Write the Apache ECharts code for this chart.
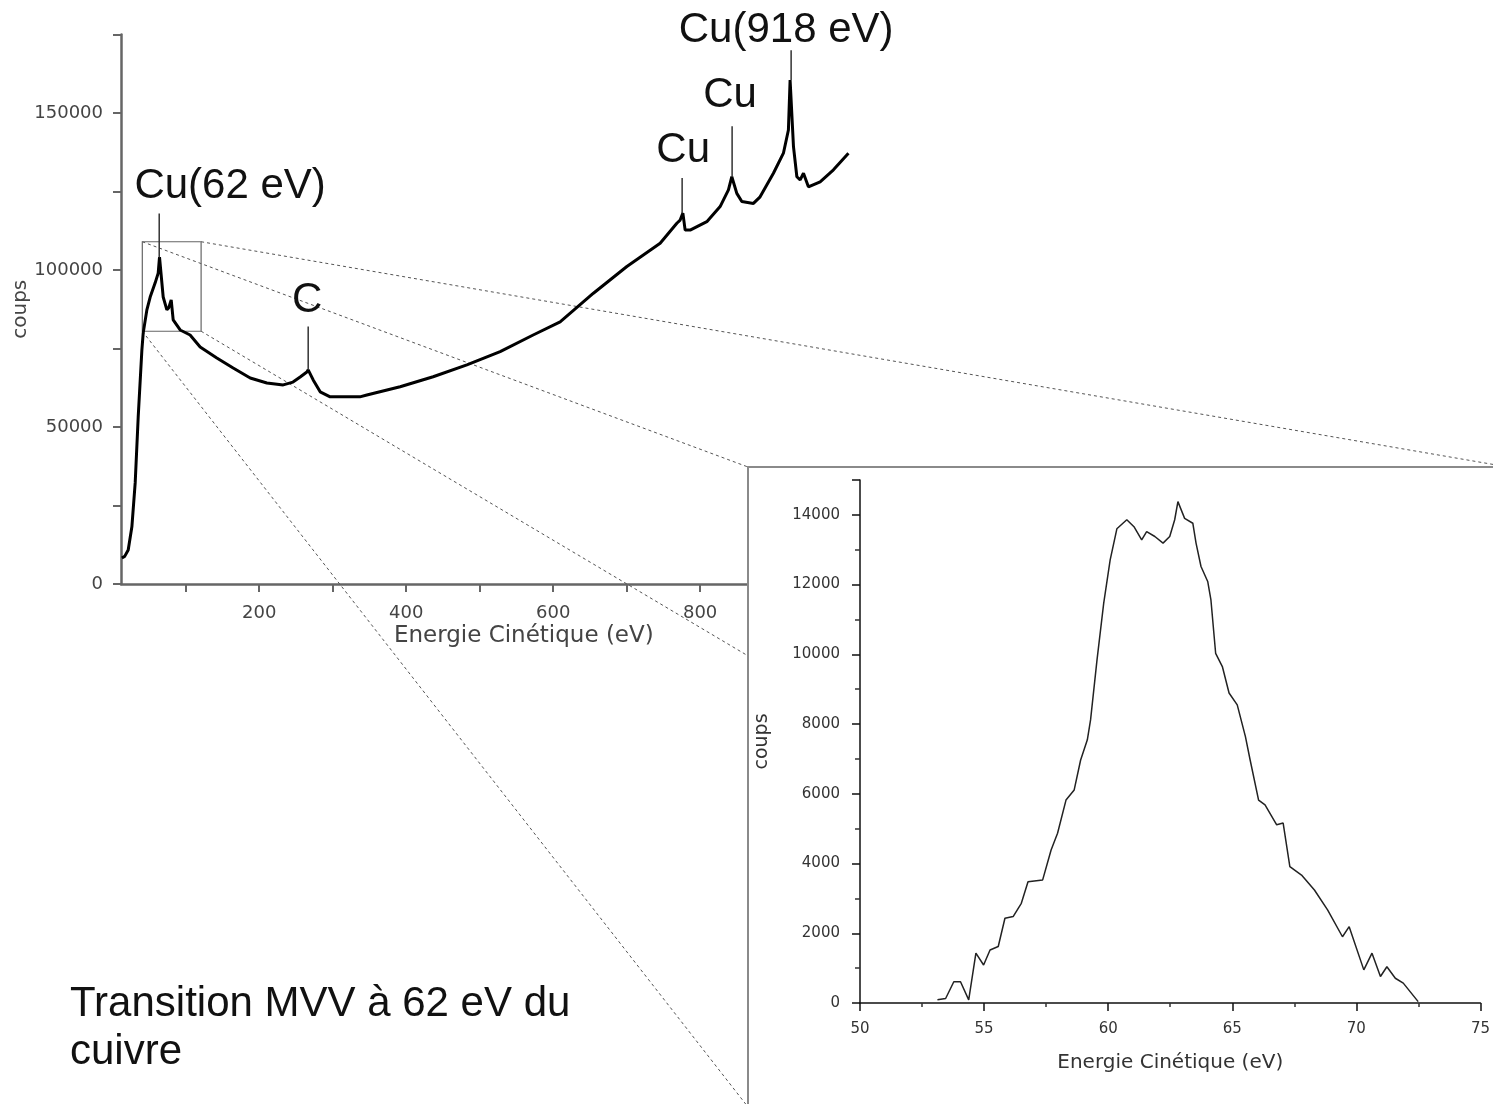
<!DOCTYPE html>
<html><head><meta charset="utf-8">
<script src="https://cdn.jsdelivr.net/npm/echarts@6/dist/echarts.min.js"></script>
<style>html,body{margin:0;padding:0;background:#fff;overflow:hidden}#c{width:1493px;height:1104px}</style>
</head><body><div id="c"></div>
<script>
// ---- Main spectrum (Energie cinétique en eV, coups) ----
const mainEnergy = [13.2,17,21.8,26.8,31.3,35.4,40.4,42.2,47.2,51.7,58.5,62.6,64.4,69.4,74.4,77,80.3,83,92.5,106,119.7,142.4,164.6,187.8,210.5,232.7,246,255.8,264.9,266.7,273.5,283,296.6,337,346.5,391.8,436.7,482.6,527.9,572.8,609.5,654.8,700.3,745.6,768.3,772.8,776.5,779.6,786.4,809.1,827.2,838.5,843.1,849.9,856.7,872.5,881.6,899.7,913.3,920.1,922.4,927,931.6,936.1,940.6,947.3,963.3,981.4,1001.8];
const mainCounts = [8300,8800,10800,18200,32200,53200,74500,79900,87300,91400,95900,99000,104100,91400,87300,88000,90500,84100,80900,79300,75500,72000,68800,65600,64000,63400,64300,65900,67500,68200,65000,61200,59600,59600,60200,62800,66000,69800,74000,79300,83500,92600,101100,108500,114900,115900,118100,112700,112700,115400,120200,125500,129700,124400,121800,121200,123300,130800,137200,144600,160500,139300,129700,128700,130800,126500,128100,131900,137200];
const mainXLabels = [200,400,600,800];
const mainXTicks = [100,200,300,400,500,600,700,800,900];

// ---- Inset: transition MVV du cuivre ----
const insetEnergy = [53.12,53.45,53.78,54.05,54.38,54.67,54.98,55.24,55.57,55.84,56.17,56.5,56.77,57.36,57.7,57.96,58.3,58.63,58.89,59.16,59.29,59.55,59.82,60.08,60.35,60.75,61.05,61.35,61.55,61.88,62.21,62.48,62.68,62.81,63.08,63.41,63.54,63.74,64.01,64.14,64.33,64.6,64.87,65.2,65.53,65.72,66.06,66.32,66.79,67.05,67.32,67.79,68.31,68.84,69.44,69.71,70.3,70.63,70.97,71.23,71.57,71.89,72.49];
const insetCounts = [90,130,610,610,90,1430,1090,1520,1620,2430,2480,2860,3480,3530,4390,4870,5820,6110,6970,7550,8120,9840,11470,12710,13600,13860,13650,13280,13520,13380,13190,13380,13860,14380,13900,13760,13190,12520,12090,11560,10030,9650,8890,8550,7640,6970,5820,5680,5110,5160,3910,3670,3240,2670,1900,2190,950,1430,760,1040,710,570,40];

// ---- Annotations (data units of the main chart) ----
const annoLabels = ['Cu(62 eV)','C','Cu','Cu','Cu(918 eV)'];
const annoEnergy = [64, 266.7, 775.5, 843.5, 923.8];
const annoLineTop = [118000, 82000, 129300, 145800, 170000];
const annoLineBottom = [104000, 68200, 118100, 129700, 160500];
const annoTextEnergy = [160.5, 265.3, 776.9, 840.8, 917];
const annoTextCounts = [126700, 90400, 138200, 155700, 176400];
const zoomBoxEnergy = [41, 121];
const zoomBoxCounts = [80500, 109000];
const caption = 'Transition MVV à 62 eV du\ncuivre';

const zip = (a, b) => a.map((v, i) => [v, b[i]]);
const F = 'DejaVu Sans';
const chart = echarts.init(document.getElementById('c'));

const option = {
  animation: false,
  backgroundColor: '#fff',
  grid: [
    {left: 121, top: 34.5, width: 727.6, height: 549.5},
    {left: 860, top: 480, width: 628, height: 523}
  ],
  xAxis: [
    {gridIndex: 0, type: 'value', min: 12, max: 1002,
     axisLine: {lineStyle: {color: '#666', width: 2.5}},
     axisTick: {customValues: mainXTicks, length: 8, lineStyle: {color: '#666', width: 2}},
     axisLabel: {customValues: mainXLabels, color: '#444', fontSize: 18, fontFamily: F, margin: 20},
     splitLine: {show: false},
     name: 'Energie Cinétique (eV)', nameLocation: 'middle', nameGap: 41,
     nameTextStyle: {color: '#444', fontSize: 23, fontFamily: F, padding: [0, 0, 0, 78]}},
    {gridIndex: 1, type: 'value', min: 50, max: 75, interval: 5, z: 6,
     axisLine: {lineStyle: {color: '#111', width: 1.5}},
     axisTick: {length: 8, lineStyle: {color: '#111', width: 1.5}},
     minorTick: {show: true, splitNumber: 2, length: 4, lineStyle: {color: '#333', width: 1.5}},
     axisLabel: {color: '#333', fontSize: 15, fontFamily: F, margin: 19},
     splitLine: {show: false}, minorSplitLine: {show: false},
     name: 'Energie Cinétique (eV)', nameLocation: 'middle', nameGap: 50,
     nameTextStyle: {color: '#333', fontSize: 20, fontFamily: F}}
  ],
  yAxis: [
    {gridIndex: 0, type: 'value', min: 0, max: 175000, interval: 25000,
     axisLine: {show: true, lineStyle: {color: '#666', width: 2.5}},
     axisTick: {show: true, length: 8, lineStyle: {color: '#666', width: 2}},
     axisLabel: {color: '#444', fontSize: 18, fontFamily: F, margin: 18,
       formatter: v => (v % 50000 === 0 ? String(v) : '')},
     splitLine: {show: false},
     name: 'coups', nameLocation: 'middle', nameGap: 90,
     nameTextStyle: {color: '#444', fontSize: 20, fontFamily: F}},
    {gridIndex: 1, type: 'value', min: 0, max: 15000, interval: 2000, z: 6,
     axisLine: {show: true, lineStyle: {color: '#111', width: 1.5}},
     axisTick: {show: true, length: 8, lineStyle: {color: '#111', width: 1.5}},
     minorTick: {show: true, splitNumber: 2, length: 5, lineStyle: {color: '#333', width: 1.5}},
     axisLabel: {color: '#333', fontSize: 15, fontFamily: F, margin: 20, showMaxLabel: false,
       formatter: v => String(v)},
     splitLine: {show: false}, minorSplitLine: {show: false},
     name: 'coups', nameLocation: 'middle', nameGap: 88,
     nameTextStyle: {color: '#333', fontSize: 19, fontFamily: F}}
  ],
  series: [
    {type: 'line', xAxisIndex: 0, yAxisIndex: 0, data: zip(mainEnergy, mainCounts),
     showSymbol: false, symbol: 'none', lineStyle: {color: '#000', width: 3}, z: 2},
    {type: 'line', xAxisIndex: 1, yAxisIndex: 1, data: zip(insetEnergy, insetCounts),
     showSymbol: false, symbol: 'none', lineStyle: {color: '#222', width: 1.5}, z: 7}
  ]
};
chart.setOption(option);

// Overlay elements placed through the main grid's scales
const P = (e, c) => chart.convertToPixel({gridIndex: 0}, [e, c]);
const frame = {x: 748, y: 467, w: 760, h: 640};
const b0 = P(zoomBoxEnergy[0], zoomBoxCounts[1]); // top-left
const b1 = P(zoomBoxEnergy[1], zoomBoxCounts[0]); // bottom-right
const els = [];
const dotted = {stroke: '#555', lineWidth: 1, lineDash: [3, 3]};
[[b0[0], b0[1], frame.x, frame.y],
 [b1[0], b0[1], frame.x + frame.w, frame.y],
 [b0[0], b1[1], frame.x, frame.y + frame.h],
 [b1[0], b1[1], frame.x + frame.w, frame.y + frame.h]].forEach(s => {
  els.push({type: 'line', z: 1, silent: true, shape: {x1: s[0], y1: s[1], x2: s[2], y2: s[3]}, style: dotted});
});
els.push({type: 'rect', z: 1, silent: true,
  shape: {x: b0[0], y: b0[1], width: b1[0] - b0[0], height: b1[1] - b0[1]},
  style: {fill: 'none', stroke: '#666', lineWidth: 1.2}});
annoLabels.forEach((t, i) => {
  const a = P(annoEnergy[i], annoLineTop[i]);
  const b = P(annoEnergy[i], annoLineBottom[i]);
  els.push({type: 'line', z: 3, silent: true, shape: {x1: a[0], y1: a[1], x2: b[0], y2: b[1]},
    style: {stroke: '#333', lineWidth: 1.5}});
  const p = P(annoTextEnergy[i], annoTextCounts[i]);
  els.push({type: 'text', z: 3, silent: true, x: p[0], y: p[1],
    style: {text: t, font: '42px "Liberation Sans", Arial, sans-serif', fill: '#111',
      align: 'center', verticalAlign: 'middle', textAlign: 'center', textVerticalAlign: 'middle'}});
});
els.push({type: 'rect', z: 4, silent: true,
  shape: {x: frame.x, y: frame.y, width: frame.w, height: frame.h},
  style: {fill: '#fff', stroke: '#8a8a8a', lineWidth: 2}});
els.push({type: 'text', z: 3, silent: true, x: 70, y: 980,
  style: {text: caption, font: '42px "Liberation Sans", Arial, sans-serif', fill: '#111', lineHeight: 48,
    align: 'left', verticalAlign: 'top', textAlign: 'left', textVerticalAlign: 'top'}});
chart.setOption({graphic: {elements: els}});
</script>
</body></html>
